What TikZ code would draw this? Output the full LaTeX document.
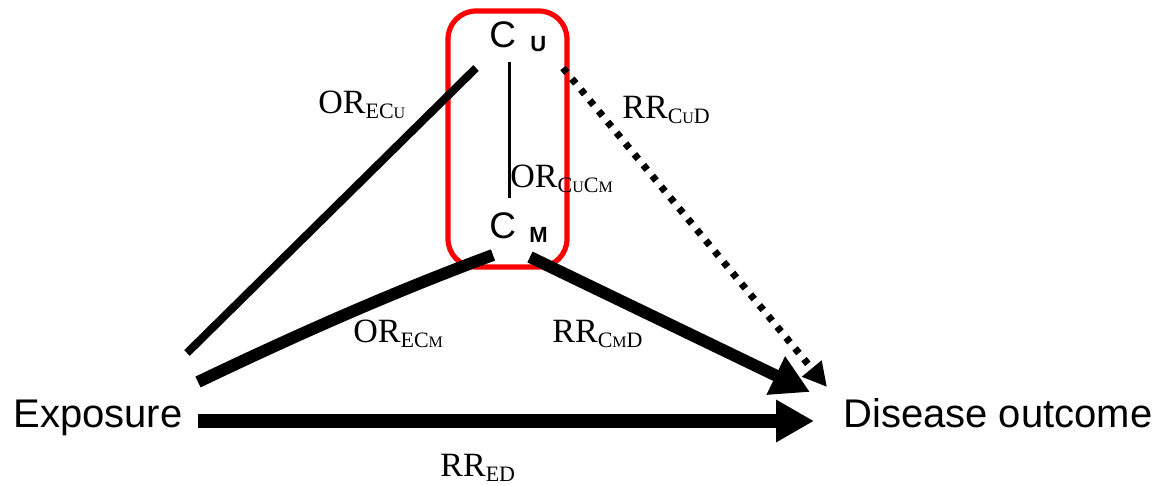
\documentclass[tikz,border=0pt]{standalone}
\usepackage{fontspec}
\setmainfont{Liberation Serif}
\newfontfamily\arialf{Liberation Sans}
\usetikzlibrary{arrows.meta}
\newcommand{\smc}[1]{{\fontsize{8}{8}\selectfont #1}}
\newcommand{\subtxt}[1]{\raisebox{-2.5pt}{\fontsize{11}{11}\selectfont #1}}
\begin{document}
\begin{tikzpicture}[x=0.5pt,y=-0.5pt,
  lbl/.style={inner sep=0pt, anchor=base west, font=\fontsize{17}{17}\selectfont},
  big/.style={inner sep=0pt, anchor=base west, font=\arialf\fontsize{20}{20}\selectfont},
  cee/.style={inner sep=0pt, anchor=base west, font=\arialf\fontsize{18.5}{18.5}\selectfont},
  subu/.style={inner sep=0pt, anchor=base west, font=\arialf\bfseries\fontsize{11}{11}\selectfont},
  thinlink/.style={line width=1.5pt},
  midlink/.style={line width=4pt},
  heavy/.style={line width=6pt},
  heavyarrow/.style={line width=6pt, -{Triangle[length=19pt,width=20pt]}},
  dotarrow/.style={line width=3.5pt, dash pattern=on 3pt off 4pt, -{Triangle[length=12pt,width=12pt]}},
  redbox/.style={draw=red, line width=2.6pt, rounded corners=14pt}
]
\useasboundingbox (0,0) rectangle (1164,486);

% red box
\draw[redbox] (448,11) rectangle (567,267);

% nodes
\node[big] (E) at (13,428) {Exposure};
\node[big] (D) at (843,428) {Disease outcome};
\node[cee] (Cu) at (489,48) {C};
\node[subu] (Cusub) at (530,52) {U};
\node[cee] (Cm) at (489,239) {C};
\node[subu] (Cmsub) at (529,243) {M};

% labels
\node[lbl] (l1) at (318,114) {OR\subtxt{EC\smc{U}}};
\node[lbl] (l2) at (622,119) {RR\subtxt{C\smc{U}D}};
\node[lbl] (l3) at (510,188) {OR\subtxt{C\smc{U}C\smc{M}}};
\node[lbl] (l4) at (353,343) {OR\subtxt{EC\smc{M}}};
\node[lbl] (l5) at (552,343) {RR\subtxt{C\smc{M}D}};
\node[lbl] (l6) at (440,477) {RR\subtxt{ED}};

% connector end points
\coordinate (eu) at (187,353);
\coordinate (ue) at (476,68);
\coordinate (em) at (198,382);
\coordinate (me) at (493,255);
\coordinate (md) at (530,257);
\coordinate (dm) at (810,392);
\coordinate (ud) at (563,68);
\coordinate (du) at (827,387);
\coordinate (ed) at (198,421);
\coordinate (de) at (814,421);
\coordinate (uc) at (509,62);
\coordinate (cu) at (509,198);

% connectors
\draw[midlink] (eu) -- (ue);
\draw[heavy] (em) .. controls (294,336) and (393,292) .. (me);
\draw[heavyarrow] (md) -- (dm);
\draw[dotarrow] (ud) -- (du);
\draw[heavyarrow, line width=7pt] (ed) -- (de);
\draw[thinlink] (uc) -- (cu);
\end{tikzpicture}
\end{document}
